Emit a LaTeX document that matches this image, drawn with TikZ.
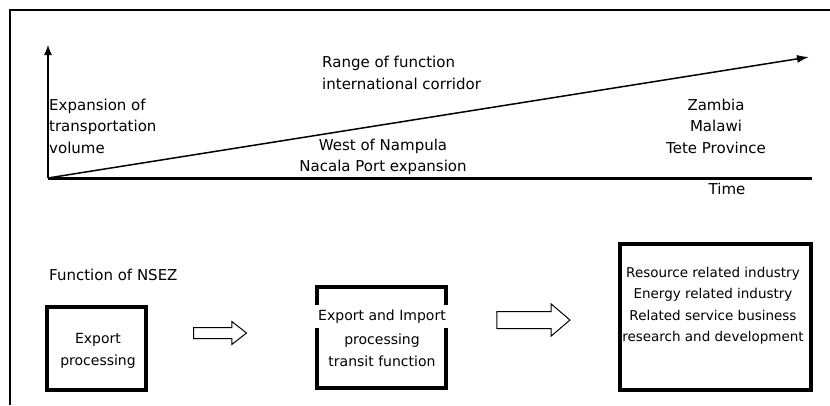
\documentclass[tikz,border=0pt]{standalone}
\usepackage{fontspec}
\setmainfont{DejaVu Sans}
\usetikzlibrary{arrows.meta,shapes.arrows}

\begin{document}
\begin{tikzpicture}[x=1pt,y=-1pt]

      \useasboundingbox (0,0) rectangle (830,405);
      \draw[line width=2pt] (10,405) -- (10,10) -- (830,10);

      \coordinate (o) at (48,178);
      \coordinate (v) at (48,45);
      \coordinate (t) at (812,178);
      \coordinate (r) at (809,57);

      \draw[line width=1.2pt,-{Latex[length=10pt,width=8pt]}] (o) -- (v);
      \draw[line width=3pt] (o) -- (t);
      \draw[line width=1.5pt,-{Latex[length=12pt,width=8pt]}] (o) -- (r);

      \begin{scope}[every node/.style={font=\fontsize{15}{21.5}\selectfont,inner sep=2pt}]
        \node[align=left,anchor=west] (range)  at (320,73)  {Range of function\\international corridor};
        \node[align=left,anchor=west] (volume) at (47,126)  {Expansion of\\transportation\\volume};
        \node[align=center] (nampula) at (383,157) {West of Nampula\\Nacala Port expansion};
        \node[align=center] (zambia)  at (716,126) {Zambia\\Malawi\\Tete Province};
        \node (time) at (727,189) {Time};
        \node[anchor=west] (nsez) at (47,275) {Function of NSEZ};
      \end{scope}

      \begin{scope}[every node/.style={draw,line width=4pt,inner sep=0pt}]
        \node[minimum width=99pt,minimum height=83pt]   (b1) at (96.5,348.5) {};
        \node[minimum width=129pt,minimum height=101pt] (b2) at (381.5,337.5) {};
        \node[minimum width=191pt,minimum height=146pt] (b3) at (715.5,317) {};
      \end{scope}

      \begin{scope}[every node/.style={font=\fontsize{14}{21.5}\selectfont,align=center}]
        \node (f1) at (98,351) {Export\\processing};
        \node[fill=white,minimum width=139pt,minimum height=23pt,inner sep=0pt] (f2) at (382,316.5) {Export and Import};
        \node (f2b) at (382,350.5) {processing\\transit function};
        \node[font=\fontsize{13.5}{21.5}\selectfont] (f3) at (713,306) {Resource related industry\\Energy related industry\\Related service business\\research and development};
      \end{scope}

      \begin{scope}[every node/.style={single arrow,draw,line width=1pt}]
        \node[minimum height=53pt,inner sep=5pt,single arrow head extend=6pt,single arrow tip angle=76] (s1) at (216.5,333) {};
        \node[minimum height=73pt,inner sep=8pt,single arrow head extend=7.5pt,single arrow tip angle=81] (s2) at (528.5,320) {};
      \end{scope}

    \end{tikzpicture}
\end{document}
